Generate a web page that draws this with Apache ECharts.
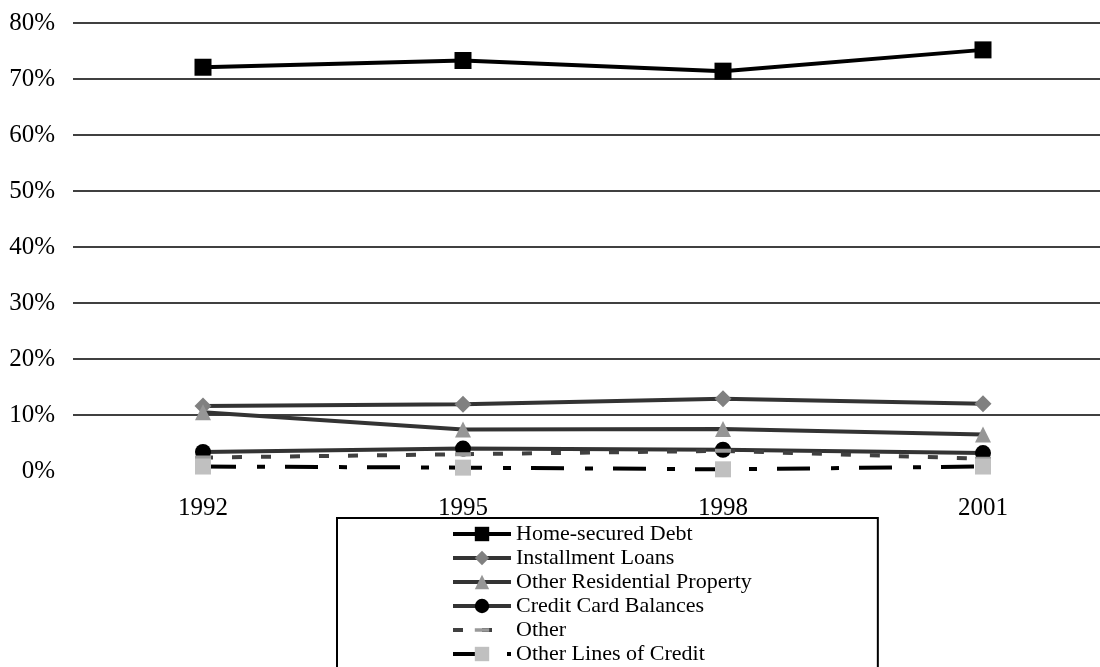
<!DOCTYPE html>
<html>
<head>
<meta charset="utf-8">
<script src="https://cdn.jsdelivr.net/npm/echarts@6/dist/echarts.min.js"></script>
<style>
html,body{margin:0;padding:0;background:#fff;overflow:hidden;width:1100px;height:667px;}
#chart{width:1113px;height:667px;}
</style>
</head>
<body>
<div id="chart"></div>
<script>
var years = ['1992', '1995', '1998', '2001'];
var homeSecured = [72.1, 73.3, 71.4, 75.2];
var installment = [11.6, 11.9, 12.9, 12.0];
var otherResidential = [10.5, 7.4, 7.5, 6.5];
var creditCard = [3.4, 4.0, 3.8, 3.2];
var other = [2.4, 3.0, 3.6, 2.2];
var otherLines = [0.8, 0.6, 0.3, 0.8];
var yTicks = [0, 10, 20, 30, 40, 50, 60, 70, 80];

var FONT = 'Liberation Serif';
var chart = echarts.init(document.getElementById('chart'), null, {renderer: 'canvas'});

function lineSeries(name, data, opts) {
  return Object.assign({
    name: name,
    type: 'line',
    data: data,
    showAllSymbol: true,
    animation: false,
    emphasis: {disabled: true}
  }, opts);
}

chart.setOption({
  animation: false,
  backgroundColor: '#fff',
  grid: {left: 73, right: 0, top: 23, bottom: 196, containLabel: false},
  xAxis: {
    type: 'category',
    data: years,
    boundaryGap: true,
    axisLine: {show: false},
    axisTick: {show: false},
    axisLabel: {margin: 25, fontFamily: FONT, fontSize: 25, color: '#000'},
    splitLine: {show: false}
  },
  yAxis: {
    type: 'value',
    min: yTicks[0],
    max: yTicks[yTicks.length - 1],
    interval: 10,
    axisLine: {show: false},
    axisTick: {show: false},
    axisLabel: {margin: 18, fontFamily: FONT, fontSize: 25, color: '#000', formatter: '{value}%'},
    splitLine: {show: true, showMinLine: false, lineStyle: {color: '#000', width: 1.5}}
  },
  legend: {
    orient: 'vertical',
    left: 337,
    top: 518,
    height: 400,
    padding: [5, 126, 40, 114],
    borderColor: '#000',
    borderWidth: 2,
    backgroundColor: '#fff',
    itemWidth: 58,
    itemHeight: 18,
    itemGap: 2,
    selectedMode: false,
    lineStyle: {width: 4},
    textStyle: {fontFamily: FONT, fontSize: 22, color: '#000', lineHeight: 18},
    data: ['Home-secured Debt', 'Installment Loans', 'Other Residential Property', 'Credit Card Balances', 'Other', 'Other Lines of Credit']
  },
  series: [
    lineSeries('Home-secured Debt', homeSecured, {
      symbol: 'rect', symbolSize: 17,
      lineStyle: {color: '#000', width: 4},
      itemStyle: {color: '#000'}
    }),
    lineSeries('Installment Loans', installment, {
      symbol: 'diamond', symbolSize: 17,
      lineStyle: {color: '#333', width: 4},
      itemStyle: {color: '#808080'}
    }),
    lineSeries('Other Residential Property', otherResidential, {
      symbol: 'triangle', symbolSize: 16,
      lineStyle: {color: '#333', width: 4},
      itemStyle: {color: '#969696'}
    }),
    lineSeries('Credit Card Balances', creditCard, {
      symbol: 'circle', symbolSize: 16,
      lineStyle: {color: '#333', width: 4},
      itemStyle: {color: '#000'}
    }),
    lineSeries('Other', other, {
      symbol: 'path://M0,-6L0.01,-6M0,0h16v4h-16zM16,10L15.99,10', symbolSize: 16,
      lineStyle: {color: '#404040', width: 4, type: [10, 19]},
      itemStyle: {color: '#999'}
    }),
    lineSeries('Other Lines of Credit', otherLines, {
      symbol: 'rect', symbolSize: 16,
      lineStyle: {color: '#000', width: 4, type: [33, 21, 8, 20]},
      itemStyle: {color: '#c0c0c0'}
    })
  ]
});
</script>
</body>
</html>
